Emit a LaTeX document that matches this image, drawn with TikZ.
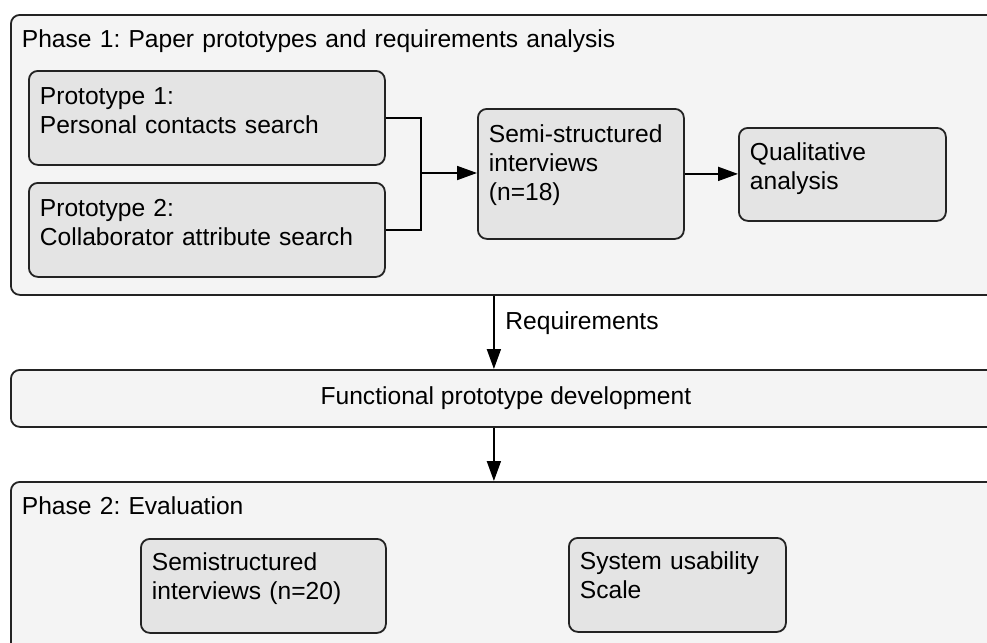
\documentclass[tikz,border=0pt]{standalone}
\usepackage{fontspec}
\setmainfont{Liberation Sans}
\frenchspacing
\definecolor{panelgray}{RGB}{244, 244, 244}
\definecolor{cardgray}{RGB}{228, 228, 228}
\definecolor{edgegray}{RGB}{35, 35, 35}
\usetikzlibrary{arrows.meta, positioning, calc}

\begin{document}
\begin{tikzpicture}[x=0.5pt, y=-0.5pt,
    font=\fontsize{12.3pt}{14.5pt}\selectfont,
    panel/.style={draw=edgegray, fill=panelgray, line width=0.9pt, rounded corners=4.5pt, anchor=north west, inner xsep=5.5pt, inner ysep=0pt, align=left},
    card/.style={draw=edgegray, fill=cardgray, line width=0.9pt, rounded corners=4.5pt, anchor=north west, inner xsep=5.5pt, inner ysep=0pt, align=left, text height=17pt},
    link/.style={draw=black, line width=0.9pt},
    arr/.style={link, -{Triangle[length=10pt, width=7pt]}}]
  \useasboundingbox (0,0) rectangle (987,643);
  % Phase 1 panel
  \node[panel, text width=484pt, text height=16.5pt, text depth=123.5pt] (phaseone) at (10,14) {Phase 1: Paper prototypes and requirements analysis};
  \node[card, text width=167pt, text depth=30pt] (protoone) at (28,70) {Prototype 1:\\Personal contacts search};
  \node[card, text width=167pt, text depth=30pt] (prototwo) at (28,182) {Prototype 2:\\Collaborator attribute search};
  \node[card, text width=92pt, text depth=48pt] (semi) at (477,108) {Semi-structured\\interviews\\(n=18)};
  \node[card, text width=92.5pt, text height=16.5pt, text depth=30pt] (qual) at (738,127) {Qualitative\\analysis};
  % Functional prototype
  \node[panel, minimum width=495pt, minimum height=28.5pt, align=center] (func) at (10,369) {Functional prototype development};
  % Phase 2 panel
  \node[panel, text width=484pt, text height=16.5pt, text depth=93.5pt] (phasetwo) at (10,481) {Phase 2: Evaluation};
  \node[card, text width=111.5pt, text height=16pt, text depth=31pt] (semieval) at (140,538) {Semistructured\\interviews (n=20)};
  \node[card, text width=97.5pt, text height=16pt, text depth=31pt] (sus) at (568,537) {System usability\\Scale};
  % Connectors
  \coordinate (merge) at (421,173);
  \draw[link] (protoone.east) -| (merge);
  \draw[link] (prototwo.east) -| (merge);
  \draw[arr] (merge) -- (merge -| semi.west);
  \draw[arr] (semi.east) -- (semi.east -| qual.west);
  \draw[arr] ([xshift=-6pt]phaseone.south) -- node[midway, right=2pt, yshift=4.5pt] {Requirements} ([xshift=-6pt]func.north);
  \draw[arr] ([xshift=-6pt]func.south) -- ([xshift=-6pt]phasetwo.north);
\end{tikzpicture}
\end{document}
